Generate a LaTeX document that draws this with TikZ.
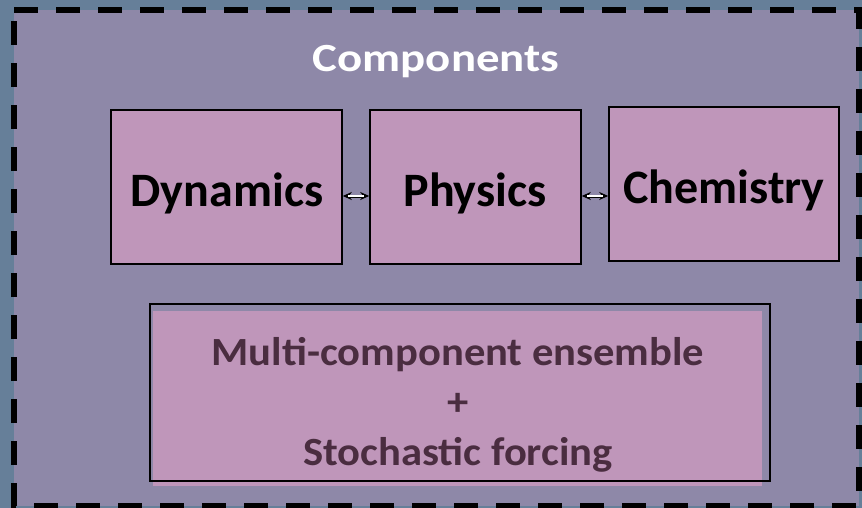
\documentclass[tikz,border=0pt]{standalone}
\usepackage{fontspec}
\setmainfont{Carlito}
\usetikzlibrary{arrows.meta}
\definecolor{outerbg}{HTML}{667F99}
\definecolor{innerbg}{HTML}{8E88A8}
\definecolor{boxfill}{HTML}{BF96BA}
\definecolor{ensembletext}{HTML}{4A2D40}
\tikzset{
  comp/.style={draw=black, line width=1.6pt, fill=boxfill, inner sep=0pt},
  complabel/.style={anchor=base, inner sep=0pt, text=black, font=\bfseries\fontsize{48}{52}\selectfont},
  enslabel/.style={anchor=base, inner sep=0pt, text=ensembletext, font=\bfseries\fontsize{40}{44}\selectfont, xscale=1.065, transform shape},
  linkouter/.style={draw=black, line width=3pt, {Stealth[length=9pt,width=8pt]}-{Stealth[length=9pt,width=8pt]}},
  linkinner/.style={draw=white, line width=1.1pt, shorten <=5pt, shorten >=5pt},
}
\begin{document}
\begin{tikzpicture}[x=1pt,y=-1pt]
\useasboundingbox (0,0) rectangle (862,508);
\fill[outerbg] (0,0) rectangle (862,508);
\fill[innerbg] (14,10) rectangle (859,505.5);
\draw[black, line width=6pt, dash pattern=on 24pt off 18pt] (14,10) -- (859,10) -- (859,505.5) -- (14,505.5) -- cycle;
\node[anchor=base, inner sep=0pt, text=white, font=\bfseries\fontsize{40}{44}\selectfont, xscale=1.17, transform shape] (title) at (436,72) {Components};
\node[comp, minimum width=231pt, minimum height=154pt] (dyn) at (226.5,187) {};
\node[comp, minimum width=211pt, minimum height=154pt] (phy) at (475.5,187) {};
\node[comp, minimum width=230pt, minimum height=154pt] (chem) at (724,184) {};
\node[complabel] (dynlabel) at (227,206) {Dynamics};
\node[complabel] (phylabel) at (475,206) {Physics};
\node[complabel] (chemlabel) at (724,203) {Chemistry};
\coordinate (a1) at (dyn.east |- 0,196);
\coordinate (a2) at (phy.west |- 0,196);
\coordinate (b1) at (phy.east |- 0,196);
\coordinate (b2) at (chem.west |- 0,196);
\draw[linkouter] (a1) -- (a2);
\draw[linkinner] (a1) -- (a2);
\draw[linkouter] (b1) -- (b2);
\draw[linkinner] (b1) -- (b2);
\fill[boxfill] (153,311) rectangle (762,486);
\node[draw=black, line width=1.6pt, minimum width=620pt, minimum height=177pt, inner sep=0pt] (ens) at (460,392.5) {};
\node[enslabel] (ens1) at (458,365) {Multi-component ensemble};
\node[enslabel] (ens2) at (458,415) {+};
\node[enslabel] (ens3) at (458,465) {Stochastic forcing};
\end{tikzpicture}
\end{document}
